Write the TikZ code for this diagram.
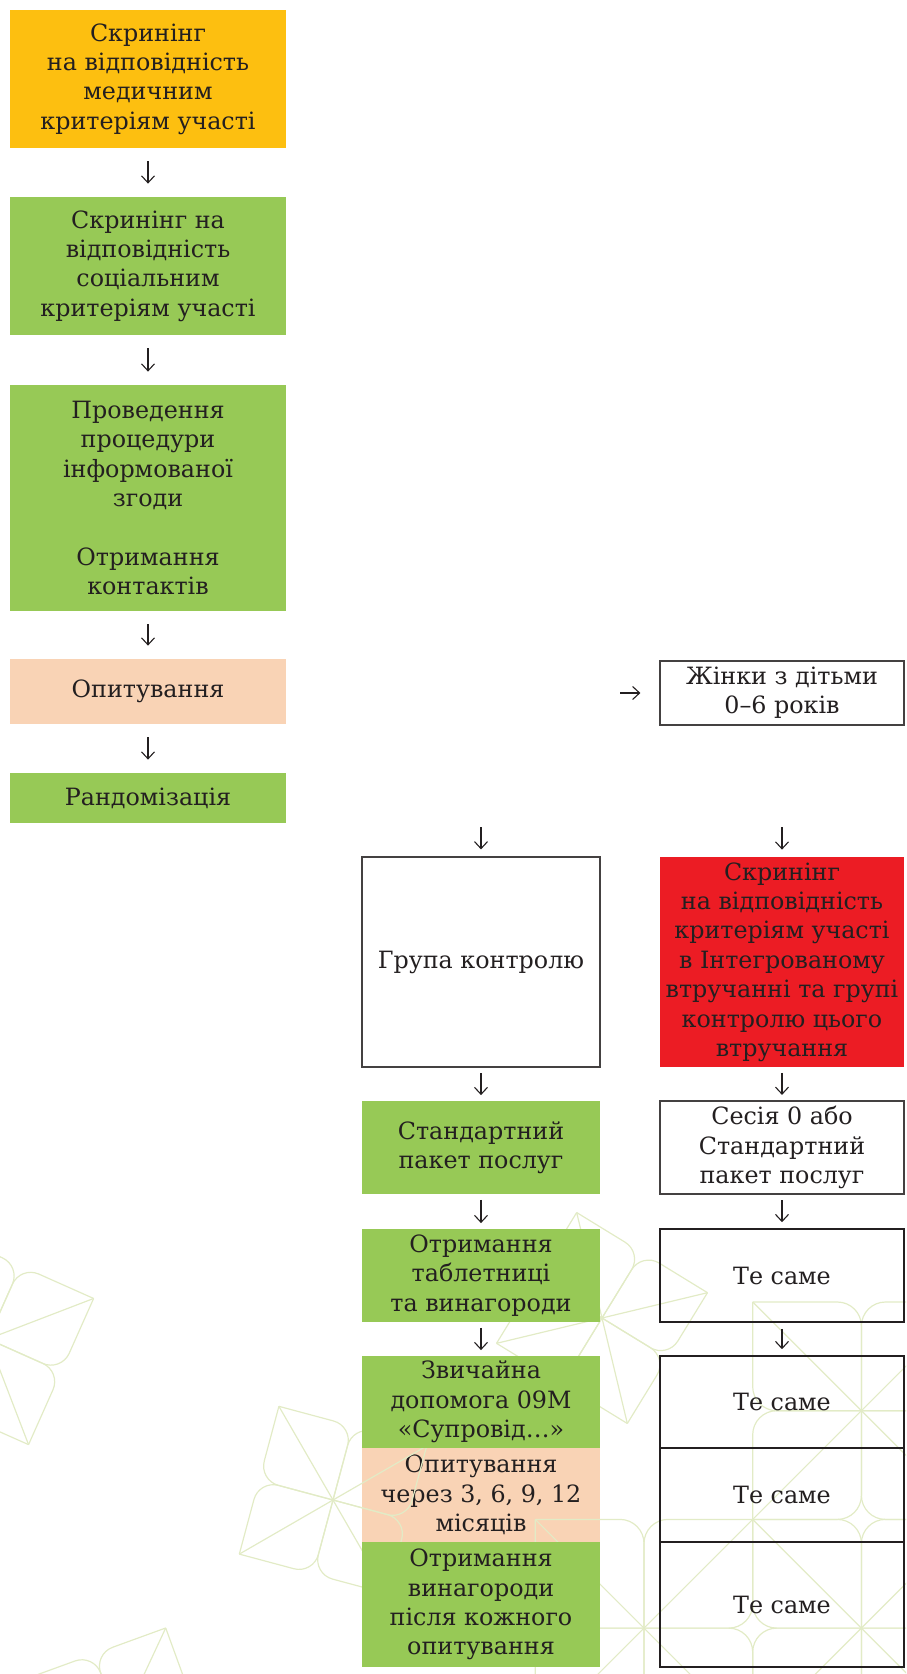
\documentclass[tikz,border=0pt]{standalone}
\usepackage{fontspec}
\setmainfont{DejaVu Serif}
\usetikzlibrary{arrows.meta}
\definecolor{cOrange}{RGB}{253,191,16}
\definecolor{cGreen}{RGB}{151,201,86}
\definecolor{cPeach}{RGB}{249,211,181}
\definecolor{cRed}{RGB}{236,28,36}
\definecolor{cPat}{RGB}{226,235,198}
\definecolor{cText}{RGB}{35,31,32}
\newcommand\fs{\fontsize{11.9pt}{14.7pt}\selectfont}
\tikzset{
  base/.style={rectangle, inner sep=0pt, align=center, text=cText, font=\fs,
    execute at begin node={\vspace*{3.5pt}}},
  orangebox/.style={base, fill=cOrange},
  greenbox/.style={base, fill=cGreen},
  peachbox/.style={base, fill=cPeach},
  redbox/.style={base, fill=cRed},
  thinbox/.style={base, draw=cText!85, line width=0.6pt},
  thickbox/.style={base, draw=cText, line width=1.3pt},
  leftcol/.style={minimum width=138pt},
  midcol/.style={minimum width=119pt},
  rightcol/.style={minimum width=122pt},
  arr/.style={draw=cText, line width=0.55pt, -{Straight Barb[length=3.5pt,width=6.5pt]}},
  pat/.style={draw=cPat, line width=0.6pt},
}
\newcommand\flowerdraw[5]{%
  \begin{scope}[shift={(#1,#2)}]
    \foreach \k in {0,1,2,3}{
      \pgfmathsetmacro\ang{#3+90*\k}
      \pgfmathsetmacro\tipd{#4*1.41421}
      \draw[pat] (\ang:\tipd) [rounded corners=#5] -- (\ang+45:#4) -- (0,0);
      \draw[pat] (\ang:\tipd) [rounded corners=#5] -- (\ang-45:#4) -- (0,0);
      \draw[pat] (0,0) -- (\ang:\tipd);
    }
  \end{scope}}
\begin{document}
\begin{tikzpicture}[x=0.5pt,y=-0.5pt]
\useasboundingbox (0,0) rectangle (906,1674);

% peach boxes (pattern may show over them)
\node[peachbox, leftcol, minimum height=32.5pt] (b4) at (148,691.5) {Опитування};
\node[peachbox, midcol, minimum height=47pt] (op2) at (481,1495) {Опитування\\через 3, 6, 9, 12\\місяців};

% background pattern
\begin{scope}
  \clip (0,0) rectangle (906,1674);
  \flowerdraw{-12}{1339}{-21}{80}{10pt}
  \flowerdraw{333}{1500}{60}{76.5}{10pt}
  \flowerdraw{602}{1318}{76.5}{76.7}{10pt}
  \flowerdraw{120}{1726}{25}{76.5}{10pt}
  \foreach \x/\y/\t in {752.7/1302/1, 861.4/1302/0,
                        752.7/1410.7/0, 861.4/1410.7/1,
                        535.3/1519.4/1, 644/1519.4/0, 752.7/1519.4/1, 861.4/1519.4/0,
                        535.3/1628.1/0, 644/1628.1/1, 752.7/1628.1/0, 861.4/1628.1/1}{
    \ifnum\t=1
      \draw[pat] (\x,\y) [rounded corners=12pt] -- (\x+108.7,\y) -- (\x+108.7,\y+108.7);
      \draw[pat] (\x,\y) [rounded corners=12pt] -- (\x,\y+108.7) -- (\x+108.7,\y+108.7);
      \draw[pat] (\x,\y) -- (\x+108.7,\y+108.7);
    \else
      \draw[pat] (\x+108.7,\y) [rounded corners=12pt] -- (\x,\y) -- (\x,\y+108.7);
      \draw[pat] (\x+108.7,\y) [rounded corners=12pt] -- (\x+108.7,\y+108.7) -- (\x,\y+108.7);
      \draw[pat] (\x+108.7,\y) -- (\x,\y+108.7);
    \fi
  }
\end{scope}

% left column
\node[orangebox, leftcol, minimum height=69pt] (b1) at (148,79) {Скринінг\\на відповідність\\медичним\\критеріям участі};
\node[greenbox, leftcol, minimum height=69pt] (b2) at (148,266) {Скринінг на\\відповідність\\соціальним\\критеріям участі};
\node[greenbox, leftcol, minimum height=113pt] (b3) at (148,498) {Проведення\\процедури\\інформованої\\згоди\\[14.7pt]Отримання\\контактів};
\node[greenbox, leftcol, minimum height=25pt] (b5) at (148,798) {Рандомізація};

% right top
\node[thinbox, rightcol, minimum height=32pt] (zh) at (782,693) {Жінки з дітьми\\0–6 років};

% middle column
\node[thinbox, midcol, minimum height=105pt] (grp) at (481,962) {Група контролю};
\node[greenbox, midcol, minimum height=46.5pt] (std) at (481,1147.5) {Стандартний\\пакет послуг};
\node[greenbox, midcol, minimum height=46.5pt] (tab) at (481,1275.5) {Отримання\\таблетниці\\та винагороди};
\node[greenbox, midcol, minimum height=46pt] (zv) at (481,1402) {Звичайна\\допомога 09М\\«Супровід…»};
\node[greenbox, midcol, minimum height=62.5pt] (ot) at (481,1604.5) {Отримання\\винагороди\\після кожного\\опитування};

% right column
\node[redbox, rightcol, minimum height=105pt] (red) at (782,962) {Скринінг\\на відповідність\\критеріям участі\\в Інтегрованому\\втручанні та групі\\контролю цього\\втручання};
\node[thinbox, rightcol, minimum height=46.5pt] (ses) at (782,1147.5) {Сесія 0 або\\Стандартний\\пакет послуг};
\node[thickbox, rightcol, minimum height=46.5pt] (s1) at (782,1275.5) {Те саме};
\node[thickbox, rightcol, minimum height=46pt] (s2) at (782,1402) {Те саме};
\node[thickbox, rightcol, minimum height=47pt] (s3) at (782,1495) {Те саме};
\node[thickbox, rightcol, minimum height=62.5pt] (s4) at (782,1604.5) {Те саме};

% free ends of the floating arrows
\coordinate (zs) at (620,693);
\coordinate (gs) at (481,827);
\coordinate (rs) at (782,827);

% connectors
\draw[arr, shorten <=6.5pt, shorten >=6.5pt] (b1) -- (b2);
\draw[arr, shorten <=6.5pt, shorten >=6.5pt] (b2) -- (b3);
\draw[arr, shorten <=6.5pt, shorten >=6.5pt] (b3) -- (b4);
\draw[arr, shorten <=6.5pt, shorten >=6.5pt] (b4) -- (b5);
\draw[arr, shorten >=9.5pt] (zs) -- (zh);
\draw[arr, shorten >=3.5pt] (gs) -- (grp);
\draw[arr, shorten >=3.5pt] (rs) -- (red);
\draw[arr, shorten <=2.75pt, shorten >=2.75pt] (grp) -- (std);
\draw[arr, shorten <=2.75pt, shorten >=2.75pt] (red) -- (ses);
\draw[arr, shorten <=2.75pt, shorten >=2.75pt] (std) -- (tab);
\draw[arr, shorten <=2.75pt, shorten >=2.75pt] (ses) -- (s1);
\draw[arr, shorten <=2.75pt, shorten >=2.75pt] (tab) -- (zv);
\draw[arr, shorten <=2.75pt, shorten >=2.75pt] (s1) -- (s2);
\end{tikzpicture}
\end{document}
